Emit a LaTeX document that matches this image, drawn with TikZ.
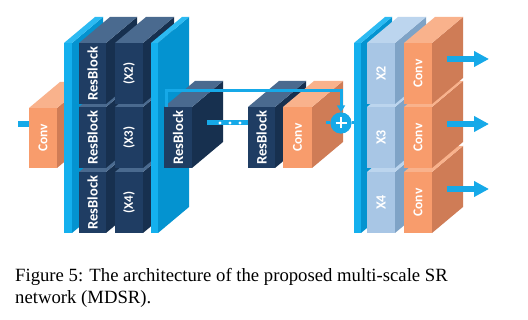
\documentclass[tikz,border=0pt]{standalone}
\usepackage{fontspec}
\setmainfont{Liberation Serif}
\setsansfont{Carlito}
\usetikzlibrary{arrows.meta}
\definecolor{nvF}{HTML}{1F3D63}
\definecolor{nvT}{HTML}{4A6A8F}
\definecolor{nvS}{HTML}{17304F}
\definecolor{orF}{HTML}{F89C6C}
\definecolor{orT}{HTML}{F9B28C}
\definecolor{orS}{HTML}{CF7C56}
\definecolor{cyF}{HTML}{14B0EE}
\definecolor{cyT}{HTML}{2CBAF2}
\definecolor{cyS}{HTML}{0493D0}
\definecolor{lbF}{HTML}{A8C6E5}
\definecolor{lbT}{HTML}{BCD5EE}
\definecolor{lbS}{HTML}{7FA3C6}
\definecolor{lnC}{HTML}{16A9E8}
\tikzset{
  boxfront/.style={draw=none, inner sep=0pt, outer sep=0pt, anchor=north west},
  boxlabel/.style={rotate=90, text=white, inner sep=0pt, font=\sffamily\bfseries\fontsize{14.5}{14.5}\selectfont},
  conn/.style={draw=lnC, line width=5.5pt},
  skipline/.style={draw=lnC, line width=3pt},
  outarrow/.style={draw=lnC, line width=5.5pt, -{Triangle[width=15pt,length=15pt]}},
  plusnode/.style={circle, fill=lnC, minimum size=21pt, inner sep=0pt,
    path picture={\draw[white, line width=2pt]
      ([xshift=-5.5pt]path picture bounding box.center) -- ([xshift=5.5pt]path picture bounding box.center)
      ([yshift=-5.5pt]path picture bounding box.center) -- ([yshift=5.5pt]path picture bounding box.center);}},
  captext/.style={anchor=base west, inner sep=0pt, font=\fontsize{18.7}{22}\selectfont}
}
\newcommand\scl{\fontsize{13}{13}\selectfont}
\newcommand\cnv{\fontsize{13.5}{13.5}\selectfont Conv}
\newcommand\ups{\fontsize{14}{14}\selectfont}
% name, x, y, width, height, colour family, label
\newcommand\dbox[7]{%
  \fill[#6S] (#2+#4,#3) -- ++(31,-26) -- ++(0,#5) -- ++(-31,26) -- cycle;
  \fill[#6T] (#2,#3) -- ++(31,-26) -- ++(#4,0) -- ++(-31,26) -- cycle;
  \node[boxfront, fill=#6F, minimum width=#4pt, minimum height=#5pt] (#1) at (#2,#3) {};
  \node[boxlabel] (#1-l) at (#1.center) {#7};
}
\begin{document}
\begin{tikzpicture}[x=1pt,y=-1pt]
\useasboundingbox (0,0) rectangle (528,320);
\fill[white] (0,0) rectangle (528,320);
% input conv
\dbox{conv1}{29}{108}{28}{60}{or}{\cnv}
\coordinate (in) at (18,124);
\draw[conn] (in) -- (in -| conv1.west);
% left panel
\dbox{pl1}{64}{43}{8}{190}{cy}{}
% column 1
\dbox{rb13}{79}{172}{27}{61}{nv}{ResBlock}
\dbox{rb12}{79}{107}{27}{61}{nv}{ResBlock}
\dbox{rb11}{79}{43}{27}{61}{nv}{ResBlock}
% column 2
\dbox{sc4}{115}{172}{28}{61}{nv}{\scl(X4)}
\dbox{sc3}{115}{107}{28}{61}{nv}{\scl(X3)}
\dbox{sc2}{115}{43}{28}{61}{nv}{\scl(X2)}
% right panel
\dbox{pl2}{151}{43}{7}{190}{cy}{}
% residual body
\dbox{rb3}{164}{107}{28}{61}{nv}{ResBlock}
\coordinate (d1) at (207,123);
\dbox{rb4}{248}{107}{27}{61}{nv}{ResBlock}
\draw[conn, line width=5pt] (d1) -- (d1 -| rb4.west);
\fill[white] (220,123) circle (1.7) (230,123) circle (1.7) (240,123) circle (1.7);
\dbox{conv2}{283}{107}{29}{61}{or}{\cnv}
% skip connection and addition
\coordinate (c2s) at (326,123);
\coordinate (sk) at (166,91);
\node[plusnode] (add) at (341,123) {};
\dbox{pl3}{354}{43}{7}{190}{cy}{}
\draw[skipline] (c2s) -- (add.west) (add.east) -- (add -| pl3.west);
\node[plusnode] (add2) at (add) {};
\draw[skipline, -{Triangle[width=8pt,length=7pt]}] ([xshift=2pt]rb3.north west) -- (sk) -| (add2.north);
% scale-specific upsamplers
\dbox{ux4}{367}{172}{28}{61}{lb}{\ups X4}
\dbox{ux3}{367}{107}{28}{61}{lb}{\ups X3}
\dbox{ux2}{367}{43}{28}{61}{lb}{\ups X2}
\dbox{oc3}{404}{172}{28}{61}{or}{\cnv}
\dbox{oc2}{404}{107}{28}{61}{or}{\cnv}
\dbox{oc1}{404}{43}{28}{61}{or}{\cnv}
\coordinate (o1) at (447,59);
\coordinate (o2) at (447,124);
\coordinate (o3) at (447,189);
\coordinate (e1) at (489,59);
\coordinate (e2) at (489,124);
\coordinate (e3) at (489,189);
\draw[outarrow] (o1) -- (e1);
\draw[outarrow] (o2) -- (e2);
\draw[outarrow] (o3) -- (e3);
% caption
\node[captext] (cap1) at (15,282) {Figure 5: The architecture of the proposed multi-scale SR};
\node[captext] (cap2) at (15,304) {network (MDSR).};
\end{tikzpicture}
\end{document}
